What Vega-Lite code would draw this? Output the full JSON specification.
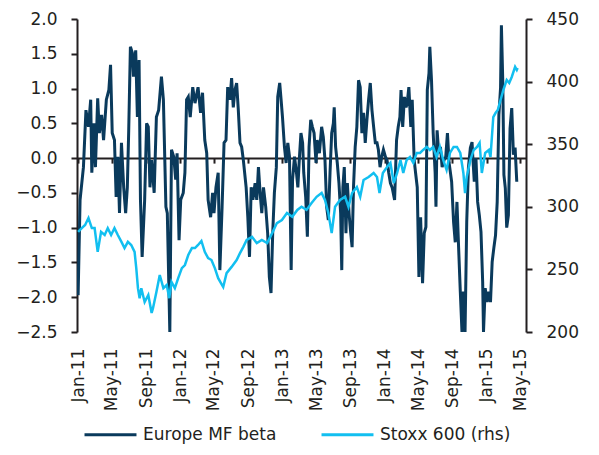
{
  "$schema": "https://vega.github.io/schema/vega-lite/v6.json",
  "width": 449,
  "height": 313,
  "autosize": {"type": "none"},
  "padding": {"left": 77, "top": 19, "right": 73, "bottom": 123},
  "background": "white",
  "config": {
    "view": {"stroke": null},
    "font": "DejaVu Sans",
    "axis": {"grid": false, "labelFont": "DejaVu Sans", "labelFontSize": 17, "labelColor": "#231f20", "domainColor": "#231f20", "tickColor": "#231f20", "domainWidth": 2, "tickWidth": 2, "tickSize": 6},
    "legend": {"labelFont": "DejaVu Sans", "labelFontSize": 17, "labelColor": "#231f20"}
  },
  "datasets": {
    "beta": [
      {"d":"2011-01-01","v":-1.97},{"d":"2011-01-08","v":-0.60},{"d":"2011-01-20","v":-0.13},{"d":"2011-01-29","v":0.69},{"d":"2011-02-07","v":0.45},{"d":"2011-02-15","v":0.84},{"d":"2011-02-19","v":-0.21},{"d":"2011-02-27","v":0.50},{"d":"2011-03-04","v":-0.13},{"d":"2011-03-12","v":0.86},{"d":"2011-03-18","v":0.36},{"d":"2011-03-26","v":0.62},{"d":"2011-04-02","v":0.26},{"d":"2011-04-12","v":0.84},{"d":"2011-04-21","v":0.98},{"d":"2011-04-27","v":1.34},{"d":"2011-05-03","v":0.36},{"d":"2011-05-11","v":0.26},{"d":"2011-05-17","v":-0.56},{"d":"2011-05-23","v":0.02},{"d":"2011-05-29","v":-0.79},{"d":"2011-06-05","v":0.22},{"d":"2011-06-13","v":-0.42},{"d":"2011-06-20","v":-0.79},{"d":"2011-06-26","v":-0.42},{"d":"2011-07-01","v":0.40},{"d":"2011-07-07","v":1.60},{"d":"2011-07-14","v":1.51},{"d":"2011-07-18","v":1.17},{"d":"2011-07-26","v":1.55},{"d":"2011-08-01","v":0.59},{"d":"2011-08-07","v":1.41},{"d":"2011-08-12","v":-0.60},{"d":"2011-08-18","v":-1.42},{"d":"2011-08-27","v":-0.60},{"d":"2011-09-03","v":0.50},{"d":"2011-09-09","v":0.45},{"d":"2011-09-15","v":-0.42},{"d":"2011-09-21","v":-0.03},{"d":"2011-09-30","v":-0.50},{"d":"2011-10-08","v":0.59},{"d":"2011-10-16","v":0.69},{"d":"2011-10-26","v":1.17},{"d":"2011-11-02","v":0.84},{"d":"2011-11-11","v":-0.70},{"d":"2011-11-16","v":-0.79},{"d":"2011-11-25","v":-2.50},{"d":"2011-12-01","v":0.12},{"d":"2011-12-09","v":0.02},{"d":"2011-12-16","v":-0.31},{"d":"2011-12-21","v":0.07},{"d":"2011-12-28","v":-1.18},
      {"d":"2012-01-03","v":-0.60},{"d":"2012-01-12","v":-0.50},{"d":"2012-01-18","v":-0.21},{"d":"2012-01-24","v":0.84},{"d":"2012-01-30","v":0.88},{"d":"2012-02-06","v":0.59},{"d":"2012-02-15","v":1.02},{"d":"2012-02-23","v":0.79},{"d":"2012-03-05","v":1.02},{"d":"2012-03-14","v":0.65},{"d":"2012-03-21","v":0.94},{"d":"2012-03-29","v":0.26},{"d":"2012-04-05","v":0.07},{"d":"2012-04-10","v":-0.60},{"d":"2012-04-19","v":-0.85},{"d":"2012-04-26","v":-0.50},{"d":"2012-05-01","v":-0.79},{"d":"2012-05-08","v":-0.42},{"d":"2012-05-16","v":-0.21},{"d":"2012-05-22","v":-1.61},{"d":"2012-05-30","v":-0.70},{"d":"2012-06-06","v":0.22},{"d":"2012-06-13","v":0.26},{"d":"2012-06-19","v":1.02},{"d":"2012-06-27","v":0.84},{"d":"2012-07-03","v":1.15},{"d":"2012-07-09","v":0.73},{"d":"2012-07-15","v":0.98},{"d":"2012-07-21","v":1.08},{"d":"2012-07-27","v":0.69},{"d":"2012-08-02","v":0.22},{"d":"2012-08-08","v":0.16},{"d":"2012-08-14","v":-0.03},{"d":"2012-08-24","v":-0.42},{"d":"2012-08-30","v":-0.85},{"d":"2012-09-05","v":-1.42},{"d":"2012-09-11","v":-0.42},{"d":"2012-09-17","v":-0.60},{"d":"2012-09-25","v":-0.36},{"d":"2012-10-01","v":-0.60},{"d":"2012-10-07","v":-0.13},{"d":"2012-10-13","v":-0.50},{"d":"2012-10-19","v":-0.79},{"d":"2012-10-25","v":-0.42},{"d":"2012-11-02","v":-0.70},{"d":"2012-11-09","v":-1.08},{"d":"2012-11-15","v":-1.71},{"d":"2012-11-21","v":-1.94},{"d":"2012-11-27","v":-1.08},{"d":"2012-12-03","v":-0.50},{"d":"2012-12-10","v":-0.13},{"d":"2012-12-15","v":0.88},{"d":"2012-12-22","v":1.08},{"d":"2012-12-27","v":0.84},
      {"d":"2013-01-01","v":0.59},{"d":"2013-01-08","v":0.16},{"d":"2013-01-14","v":-0.07},{"d":"2013-01-20","v":0.22},{"d":"2013-01-26","v":0.02},{"d":"2013-02-01","v":-1.61},{"d":"2013-02-06","v":-0.31},{"d":"2013-02-13","v":0.02},{"d":"2013-02-20","v":-0.21},{"d":"2013-02-25","v":-0.42},{"d":"2013-03-02","v":-0.03},{"d":"2013-03-08","v":0.36},{"d":"2013-03-14","v":0.22},{"d":"2013-03-18","v":-0.21},{"d":"2013-03-25","v":-0.56},{"d":"2013-03-31","v":-1.13},{"d":"2013-04-06","v":0.16},{"d":"2013-04-12","v":0.55},{"d":"2013-04-18","v":0.45},{"d":"2013-04-24","v":0.36},{"d":"2013-05-01","v":-0.07},{"d":"2013-05-05","v":0.26},{"d":"2013-05-13","v":0.07},{"d":"2013-05-21","v":0.45},{"d":"2013-05-27","v":0.30},{"d":"2013-06-02","v":-0.03},{"d":"2013-06-08","v":-0.70},{"d":"2013-06-14","v":-0.89},{"d":"2013-06-20","v":-0.21},{"d":"2013-06-26","v":0.36},{"d":"2013-07-02","v":0.50},{"d":"2013-07-05","v":0.73},{"d":"2013-07-10","v":0.16},{"d":"2013-07-16","v":-0.07},{"d":"2013-07-22","v":-0.36},{"d":"2013-07-28","v":-0.79},{"d":"2013-08-01","v":-1.61},{"d":"2013-08-05","v":-0.42},{"d":"2013-08-10","v":-0.13},{"d":"2013-08-16","v":-1.08},{"d":"2013-08-21","v":-0.36},{"d":"2013-08-27","v":-0.79},{"d":"2013-09-01","v":-1.03},{"d":"2013-09-07","v":-1.28},{"d":"2013-09-12","v":-0.42},{"d":"2013-09-18","v":0.16},{"d":"2013-09-24","v":0.45},{"d":"2013-09-30","v":1.12},{"d":"2013-10-06","v":1.02},{"d":"2013-10-12","v":0.36},{"d":"2013-10-18","v":0.65},{"d":"2013-10-24","v":0.22},{"d":"2013-10-30","v":0.55},{"d":"2013-11-05","v":0.84},{"d":"2013-11-11","v":1.08},{"d":"2013-11-17","v":0.69},{"d":"2013-11-23","v":0.45},{"d":"2013-11-29","v":0.22},{"d":"2013-12-05","v":0.22},{"d":"2013-12-10","v":0.12},{"d":"2013-12-16","v":-0.13},{"d":"2013-12-22","v":0.02},{"d":"2013-12-28","v":0.12},
      {"d":"2014-01-04","v":0.02},{"d":"2014-01-10","v":-0.03},{"d":"2014-01-16","v":-0.21},{"d":"2014-01-22","v":-0.36},{"d":"2014-01-28","v":-0.42},{"d":"2014-02-06","v":-0.60},{"d":"2014-02-13","v":0.26},{"d":"2014-02-19","v":0.45},{"d":"2014-02-25","v":0.59},{"d":"2014-03-01","v":0.98},{"d":"2014-03-07","v":0.45},{"d":"2014-03-13","v":0.88},{"d":"2014-03-19","v":0.73},{"d":"2014-03-23","v":0.79},{"d":"2014-03-29","v":1.02},{"d":"2014-04-05","v":0.45},{"d":"2014-04-10","v":0.84},{"d":"2014-04-17","v":-0.03},{"d":"2014-04-22","v":-0.21},{"d":"2014-04-28","v":-0.42},{"d":"2014-05-04","v":-1.71},{"d":"2014-05-10","v":-0.85},{"d":"2014-05-17","v":-1.80},{"d":"2014-05-23","v":-1.08},{"d":"2014-05-29","v":-0.99},{"d":"2014-06-03","v":0.98},{"d":"2014-06-09","v":1.22},{"d":"2014-06-12","v":1.60},{"d":"2014-06-18","v":1.12},{"d":"2014-06-24","v":0.36},{"d":"2014-07-01","v":-0.21},{"d":"2014-07-04","v":-0.70},{"d":"2014-07-08","v":0.40},{"d":"2014-07-14","v":0.07},{"d":"2014-07-20","v":0.16},{"d":"2014-07-26","v":-0.13},{"d":"2014-08-02","v":-0.03},{"d":"2014-08-08","v":0.02},{"d":"2014-08-14","v":0.36},{"d":"2014-08-20","v":-0.07},{"d":"2014-08-29","v":-0.34},{"d":"2014-09-05","v":-0.92},{"d":"2014-09-11","v":-1.21},{"d":"2014-09-17","v":-0.63},{"d":"2014-09-23","v":-1.29},{"d":"2014-09-29","v":-1.92},{"d":"2014-10-05","v":-2.50},{"d":"2014-10-10","v":-1.92},{"d":"2014-10-16","v":-2.50},{"d":"2014-10-22","v":-0.92},{"d":"2014-10-28","v":-0.14},{"d":"2014-11-04","v":0.15},{"d":"2014-11-10","v":0.23},{"d":"2014-11-13","v":0.00},{"d":"2014-11-18","v":-0.34},{"d":"2014-11-24","v":0.00},{"d":"2014-11-30","v":-0.63},{"d":"2014-12-06","v":-0.82},{"d":"2014-12-12","v":-1.06},{"d":"2014-12-18","v":-1.78},{"d":"2014-12-21","v":-2.50},{"d":"2014-12-27","v":-1.87},
      {"d":"2015-01-03","v":-2.07},{"d":"2015-01-09","v":-1.92},{"d":"2015-01-15","v":-2.07},{"d":"2015-01-21","v":-1.49},{"d":"2015-01-27","v":-1.29},{"d":"2015-02-02","v":-1.11},{"d":"2015-02-08","v":-0.63},{"d":"2015-02-14","v":0.62},{"d":"2015-02-20","v":1.01},{"d":"2015-02-23","v":1.91},{"d":"2015-02-28","v":1.09},{"d":"2015-03-04","v":-0.24},{"d":"2015-03-09","v":-0.43},{"d":"2015-03-14","v":-1.00},{"d":"2015-03-20","v":-0.82},{"d":"2015-03-26","v":0.43},{"d":"2015-04-01","v":0.72},{"d":"2015-04-07","v":0.05},{"d":"2015-04-13","v":0.15},{"d":"2015-04-19","v":-0.34}
    ],
    "stoxx": [
      {"d":"2011-01-01","s":280},{"d":"2011-01-14","s":283},{"d":"2011-01-26","s":285.5},{"d":"2011-02-07","s":291},{"d":"2011-02-19","s":283},{"d":"2011-03-01","s":283},{"d":"2011-03-12","s":264},{"d":"2011-03-24","s":280},{"d":"2011-04-06","s":277.5},{"d":"2011-04-17","s":283},{"d":"2011-04-29","s":277.5},{"d":"2011-05-11","s":283},{"d":"2011-05-23","s":277.5},{"d":"2011-06-05","s":272},{"d":"2011-06-16","s":267},{"d":"2011-06-28","s":272},{"d":"2011-07-10","s":269.5},{"d":"2011-07-22","s":264},{"d":"2011-07-28","s":251},{"d":"2011-08-03","s":235},{"d":"2011-08-09","s":227},{"d":"2011-08-15","s":235},{"d":"2011-08-27","s":224},{"d":"2011-09-09","s":229.6},{"d":"2011-09-21","s":215.2},{"d":"2011-09-26","s":219.2},{"d":"2011-10-08","s":232},{"d":"2011-10-20","s":245.5},{"d":"2011-11-02","s":235},{"d":"2011-11-14","s":237.5},{"d":"2011-11-23","s":227},{"d":"2011-12-01","s":240},{"d":"2011-12-13","s":235},{"d":"2011-12-25","s":243},
      {"d":"2012-01-07","s":251},{"d":"2012-01-18","s":253.5},{"d":"2012-01-30","s":261.5},{"d":"2012-02-12","s":267},{"d":"2012-02-23","s":267},{"d":"2012-03-05","s":269.5},{"d":"2012-03-17","s":272.7},{"d":"2012-03-29","s":264},{"d":"2012-04-10","s":259},{"d":"2012-04-22","s":257.5},{"d":"2012-05-04","s":251},{"d":"2012-05-16","s":243},{"d":"2012-05-28","s":238.3},{"d":"2012-06-03","s":236},{"d":"2012-06-15","s":247},{"d":"2012-07-03","s":252},{"d":"2012-07-21","s":257.5},{"d":"2012-08-02","s":263},{"d":"2012-08-14","s":268},{"d":"2012-08-26","s":273.5},{"d":"2012-09-14","s":276},{"d":"2012-10-01","s":271},{"d":"2012-10-19","s":273.5},{"d":"2012-11-07","s":271},{"d":"2012-11-25","s":279},{"d":"2012-12-12","s":287},{"d":"2012-12-30","s":289.5},
      {"d":"2013-01-17","s":295},{"d":"2013-02-05","s":292},{"d":"2013-02-23","s":297.5},{"d":"2013-03-10","s":300},{"d":"2013-03-28","s":297.5},{"d":"2013-04-15","s":303},{"d":"2013-05-03","s":308},{"d":"2013-05-21","s":311},{"d":"2013-06-02","s":305.4},{"d":"2013-06-14","s":295},{"d":"2013-06-26","s":279},{"d":"2013-07-08","s":300},{"d":"2013-07-26","s":305.4},{"d":"2013-08-13","s":308},{"d":"2013-08-25","s":300},{"d":"2013-09-07","s":311},{"d":"2013-09-24","s":315.8},{"d":"2013-10-06","s":308},{"d":"2013-10-18","s":321.4},{"d":"2013-11-05","s":323.8},{"d":"2013-11-23","s":327},{"d":"2013-12-05","s":323.8},{"d":"2013-12-14","s":311},{"d":"2013-12-26","s":327},
      {"d":"2014-01-10","s":331.8},{"d":"2014-01-22","s":335},{"d":"2014-02-03","s":319},{"d":"2014-02-15","s":327},{"d":"2014-02-27","s":337.4},{"d":"2014-03-09","s":327},{"d":"2014-03-21","s":337.4},{"d":"2014-04-02","s":339.8},{"d":"2014-04-14","s":335},{"d":"2014-04-26","s":343},{"d":"2014-05-08","s":343},{"d":"2014-05-19","s":345.4},{"d":"2014-06-01","s":347.8},{"d":"2014-06-12","s":345.4},{"d":"2014-06-24","s":347.8},{"d":"2014-07-06","s":339.8},{"d":"2014-07-18","s":347.8},{"d":"2014-07-30","s":337.4},{"d":"2014-08-11","s":329.4},{"d":"2014-08-23","s":343},{"d":"2014-09-05","s":347.8},{"d":"2014-09-17","s":347.8},{"d":"2014-09-29","s":343},{"d":"2014-10-10","s":327},{"d":"2014-10-16","s":311},{"d":"2014-10-22","s":323.8},{"d":"2014-11-04","s":337.4},{"d":"2014-11-16","s":345.4},{"d":"2014-11-28","s":347.8},{"d":"2014-12-07","s":351},{"d":"2014-12-15","s":327},{"d":"2014-12-27","s":343},
      {"d":"2015-01-09","s":345.4},{"d":"2015-01-15","s":339.8},{"d":"2015-01-25","s":371.7},{"d":"2015-02-02","s":374.9},{"d":"2015-02-10","s":377.3},{"d":"2015-02-20","s":385.3},{"d":"2015-03-02","s":393.3},{"d":"2015-03-14","s":401.3},{"d":"2015-03-23","s":398.9},{"d":"2015-04-01","s":403.7},{"d":"2015-04-13","s":411.7},{"d":"2015-04-19","s":409.3},{"d":"2015-04-22","s":410.9}
    ]
  },
  "resolve": {"scale": {"y": "independent"}, "axis": {"x": "independent"}},
  "layer": [
    {
      "data": {"name": "beta"},
      "mark": {"type": "line", "strokeWidth": 3, "clip": true},
      "encoding": {
        "x": {"field": "d", "type": "temporal", "title": null,
          "scale": {"domain": [{"year": 2010, "month": 12, "date": 28}, {"year": 2015, "month": 5, "date": 22}]},
          "axis": {"orient": "bottom", "format": "%b-%y", "tickCount": {"interval": "month", "step": 4}, "labelAngle": 270, "labelAlign": "right", "labelBaseline": "middle", "labelPadding": 16, "domain": false, "ticks": false, "labelFlush": false, "labelOverlap": false}},
        "y": {"field": "v", "type": "quantitative", "title": null,
          "scale": {"domain": [-2.5, 2], "nice": false},
          "axis": {"orient": "left", "values": [-2.5, -2, -1.5, -1, -0.5, 0, 0.5, 1, 1.5, 2], "format": ".1f", "labelPadding": 14}},
        "color": {"datum": "Europe MF beta", "type": "nominal",
          "scale": {"domain": ["Europe MF beta", "Stoxx 600 (rhs)"], "range": ["#0a3a5c", "#12bff0"]},
          "legend": {"title": null, "orient": "none", "direction": "horizontal", "legendX": 6, "legendY": 388, "symbolType": "stroke", "symbolSize": 2700, "symbolStrokeWidth": 3, "labelOffset": 5, "columnPadding": 38}}
      }
    },
    {
      "data": {"name": "stoxx"},
      "mark": {"type": "line", "strokeWidth": 2.5},
      "encoding": {
        "x": {"field": "d", "type": "temporal", "title": null,
          "axis": {"orient": "bottom", "offset": -173.9, "labels": false, "tickCount": {"interval": "month", "step": 4}, "tickSize": 5}},
        "y": {"field": "s", "type": "quantitative", "title": null,
          "scale": {"domain": [200, 450], "nice": false},
          "axis": {"orient": "right", "values": [200, 250, 300, 350, 400, 450], "labelPadding": 14}},
        "color": {"datum": "Stoxx 600 (rhs)", "type": "nominal"}
      }
    }
  ]
}
